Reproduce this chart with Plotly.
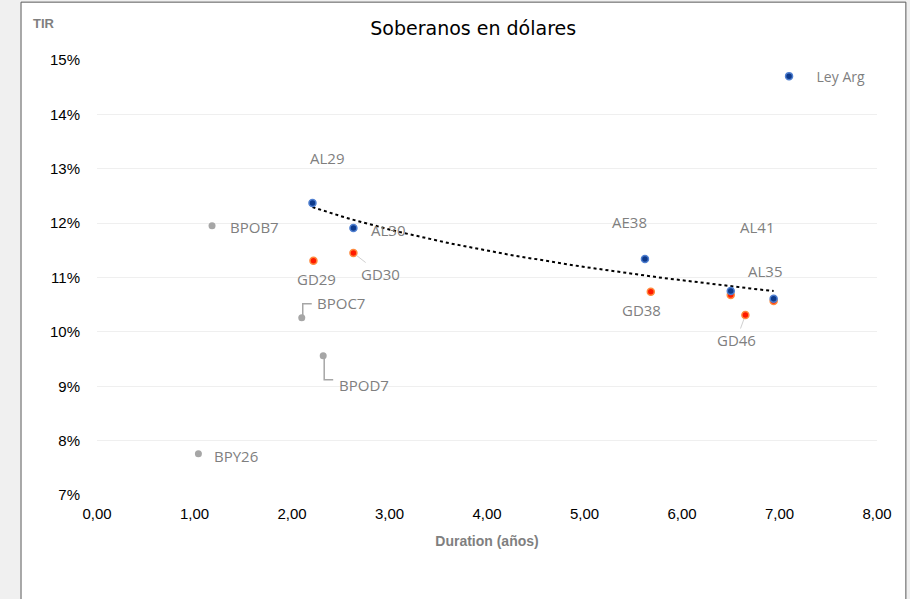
"""Soberanos en dólares: TIR vs duration scatter for Argentine sovereign bonds."""

import numpy as np
import plotly.graph_objects as go

# ---------------------------------------------------------------------------
# Data
# ---------------------------------------------------------------------------

ley_arg_names = ["AL29", "AL30", "AE38", "AL35", "AL41"]
ley_arg_duration = [2.21, 2.63, 5.62, 6.50, 6.94]
ley_arg_tir = [12.37, 11.91, 11.34, 10.75, 10.61]

ley_ny_names = ["GD29", "GD30", "GD38", "GD35", "GD46", "GD41"]
ley_ny_duration = [2.22, 2.63, 5.68, 6.50, 6.65, 6.94]
ley_ny_tir = [11.31, 11.45, 10.74, 10.68, 10.31, 10.57]

bopreal_names = ["BPOB7", "BPOC7", "BPOD7", "BPY26"]
bopreal_duration = [1.18, 2.10, 2.32, 1.04]
bopreal_tir = [11.95, 10.26, 9.56, 7.76]

x_ticks = [0, 1, 2, 3, 4, 5, 6, 7, 8]
x_tick_labels = ["0,00", "1,00", "2,00", "3,00", "4,00", "5,00", "6,00", "7,00", "8,00"]
y_ticks = [7, 8, 9, 10, 11, 12, 13, 14, 15]
y_tick_labels = ["7%", "8%", "9%", "10%", "11%", "12%", "13%", "14%", "15%"]

# ---------------------------------------------------------------------------
# Styling
# ---------------------------------------------------------------------------

_COLORS = {
    "blue": "#0d3a8c",
    "blue_edge": "#4f7fd0",
    "red": "#ff1a00",
    "red_edge": "#ff8a3d",
    "gray": "#a6a6a6",
    "label": "#7f7f7f",
    "grid": "#efefef",
    "leader": "#d0d0d0",
}

# label offsets (pixels, text centre relative to the point; +y is down)
_LABEL_OFFSETS = {
    "AL29": (15, -45),
    "AL30": (35, 2),
    "AE38": (-15, -37),
    "AL35": (34, -20),
    "AL41": (-17, -72),
    "GD29": (3, 18),
    "GD30": (27, 21),
    "GD38": (-9, 18),
    "GD46": (-9, 25),
    "BPOB7": (42, 1),
    "BPOC7": (39, -15),
    "BPOD7": (41, 29),
    "BPY26": (38, 2),
}
_FAINT_LEADERS = {"GD30", "GD46"}
# elbow leader lines in pixels relative to the point (+y is up)
_ELBOW_LEADERS = {
    "BPOC7": "M 1 -2 L 1 14 L 10 14",
    "BPOD7": "M 1 0 L 1 -24 L 10 -24",
}

_LABEL_FONT = {"family": "Open Sans, DejaVu Sans, sans-serif", "size": 15, "color": _COLORS["label"]}
_TICK_FONT = {"family": "Liberation Sans, Arial, sans-serif", "size": 15, "color": "black"}

# ---------------------------------------------------------------------------
# Figure
# ---------------------------------------------------------------------------

fig = go.Figure()

# logarithmic trendline on the Ley Argentina series
coef = np.polyfit(np.log(ley_arg_duration), ley_arg_tir, 1)
trend_x = np.linspace(min(ley_arg_duration), max(ley_arg_duration), 60)
trend_y = coef[0] * np.log(trend_x) + coef[1]
fig.add_trace(
    go.Scatter(
        x=trend_x,
        y=trend_y,
        mode="lines",
        line={"color": "black", "width": 2, "dash": "dot"},
        showlegend=False,
        hoverinfo="skip",
    )
)

fig.add_trace(
    go.Scatter(
        x=bopreal_duration,
        y=bopreal_tir,
        mode="markers",
        name="Bopreal",
        marker={"size": 7, "color": _COLORS["gray"]},
        showlegend=False,
    )
)
fig.add_trace(
    go.Scatter(
        x=ley_ny_duration,
        y=ley_ny_tir,
        mode="markers",
        name="Ley NY",
        marker={"size": 7, "color": _COLORS["red"], "line": {"color": _COLORS["red_edge"], "width": 1.5}},
        showlegend=False,
    )
)
fig.add_trace(
    go.Scatter(
        x=ley_arg_duration,
        y=ley_arg_tir,
        mode="markers",
        name="Ley Arg",
        marker={"size": 7, "color": _COLORS["blue"], "line": {"color": _COLORS["blue_edge"], "width": 1.5}},
        showlegend=True,
    )
)

# data labels
annotations = []
shapes = []
series = [
    (ley_arg_names, ley_arg_duration, ley_arg_tir),
    (ley_ny_names, ley_ny_duration, ley_ny_tir),
    (bopreal_names, bopreal_duration, bopreal_tir),
]
for names, xs, ys in series:
    for name, x, y in zip(names, xs, ys):
        if name not in _LABEL_OFFSETS:
            continue
        ax, ay = _LABEL_OFFSETS[name]
        faint = name in _FAINT_LEADERS
        annotations.append(
            {
                "x": x,
                "y": y,
                "xref": "x",
                "yref": "y",
                "text": name,
                "showarrow": True,
                "ax": ax,
                "ay": ay,
                "arrowhead": 0,
                "arrowwidth": 1,
                "arrowcolor": _COLORS["leader"] if faint else "rgba(0,0,0,0)",
                "standoff": 4,
                "font": _LABEL_FONT,
            }
        )
        if name in _ELBOW_LEADERS:
            shapes.append(
                {
                    "type": "path",
                    "xref": "x",
                    "yref": "y",
                    "xsizemode": "pixel",
                    "ysizemode": "pixel",
                    "xanchor": x,
                    "yanchor": y,
                    "path": _ELBOW_LEADERS[name],
                    "line": {"color": _COLORS["gray"], "width": 1.5},
                }
            )

# "TIR" axis caption and chart frame
annotations.append(
    {
        "text": "<b>TIR</b>",
        "xref": "paper",
        "yref": "paper",
        "x": -0.085,
        "y": 1.085,
        "xanchor": "left",
        "yanchor": "middle",
        "showarrow": False,
        "font": {"family": "Liberation Sans, Arial, sans-serif", "size": 13, "color": _COLORS["label"]},
    }
)
shapes.append(
    {
        "type": "rect",
        "xref": "paper",
        "yref": "paper",
        "x0": -0.0974,
        "x1": 1.037,
        "y0": -0.4,
        "y1": 1.133,
        "fillcolor": "white",
        "line": {"color": "#5a5a5a", "width": 1},
        "layer": "below",
    }
)

fig.update_layout(
    width=910,
    height=599,
    margin={"l": 97, "r": 33, "t": 60, "b": 104},
    paper_bgcolor="#f0f0f0",
    plot_bgcolor="white",
    title={
        "text": "Soberanos en dólares",
        "x": 0.52,
        "xanchor": "center",
        "y": 0.953,
        "yanchor": "middle",
        "font": {"family": "DejaVu Sans, sans-serif", "size": 19, "color": "black"},
    },
    xaxis={
        "range": [0, 8],
        "tickvals": x_ticks,
        "ticktext": x_tick_labels,
        "showgrid": False,
        "zeroline": False,
        "showline": False,
        "ticks": "",
        "ticklabelstandoff": 8,
        "tickfont": _TICK_FONT,
        "title": {
            "text": "<b>Duration (años)</b>",
            "font": {"family": "Liberation Sans, Arial, sans-serif", "size": 14, "color": _COLORS["label"]},
            "standoff": 15,
        },
    },
    yaxis={
        "range": [7, 15],
        "tickvals": y_ticks,
        "ticktext": y_tick_labels,
        "showgrid": True,
        "gridcolor": _COLORS["grid"],
        "gridwidth": 1,
        "zeroline": False,
        "showline": False,
        "ticks": "",
        "ticklabelstandoff": 16,
        "tickfont": _TICK_FONT,
    },
    legend={
        "x": 0.852,
        "y": 0.962,
        "xanchor": "left",
        "yanchor": "middle",
        "bgcolor": "rgba(0,0,0,0)",
        "itemwidth": 45,
        "font": {"family": "Open Sans, DejaVu Sans, sans-serif", "size": 14, "color": _COLORS["label"]},
    },
    annotations=annotations,
    shapes=shapes,
    showlegend=True,
)

fig.write_html(
    "out.html",
    config={"displayModeBar": False},
    post_script="document.body.style.margin = '0';",
)
